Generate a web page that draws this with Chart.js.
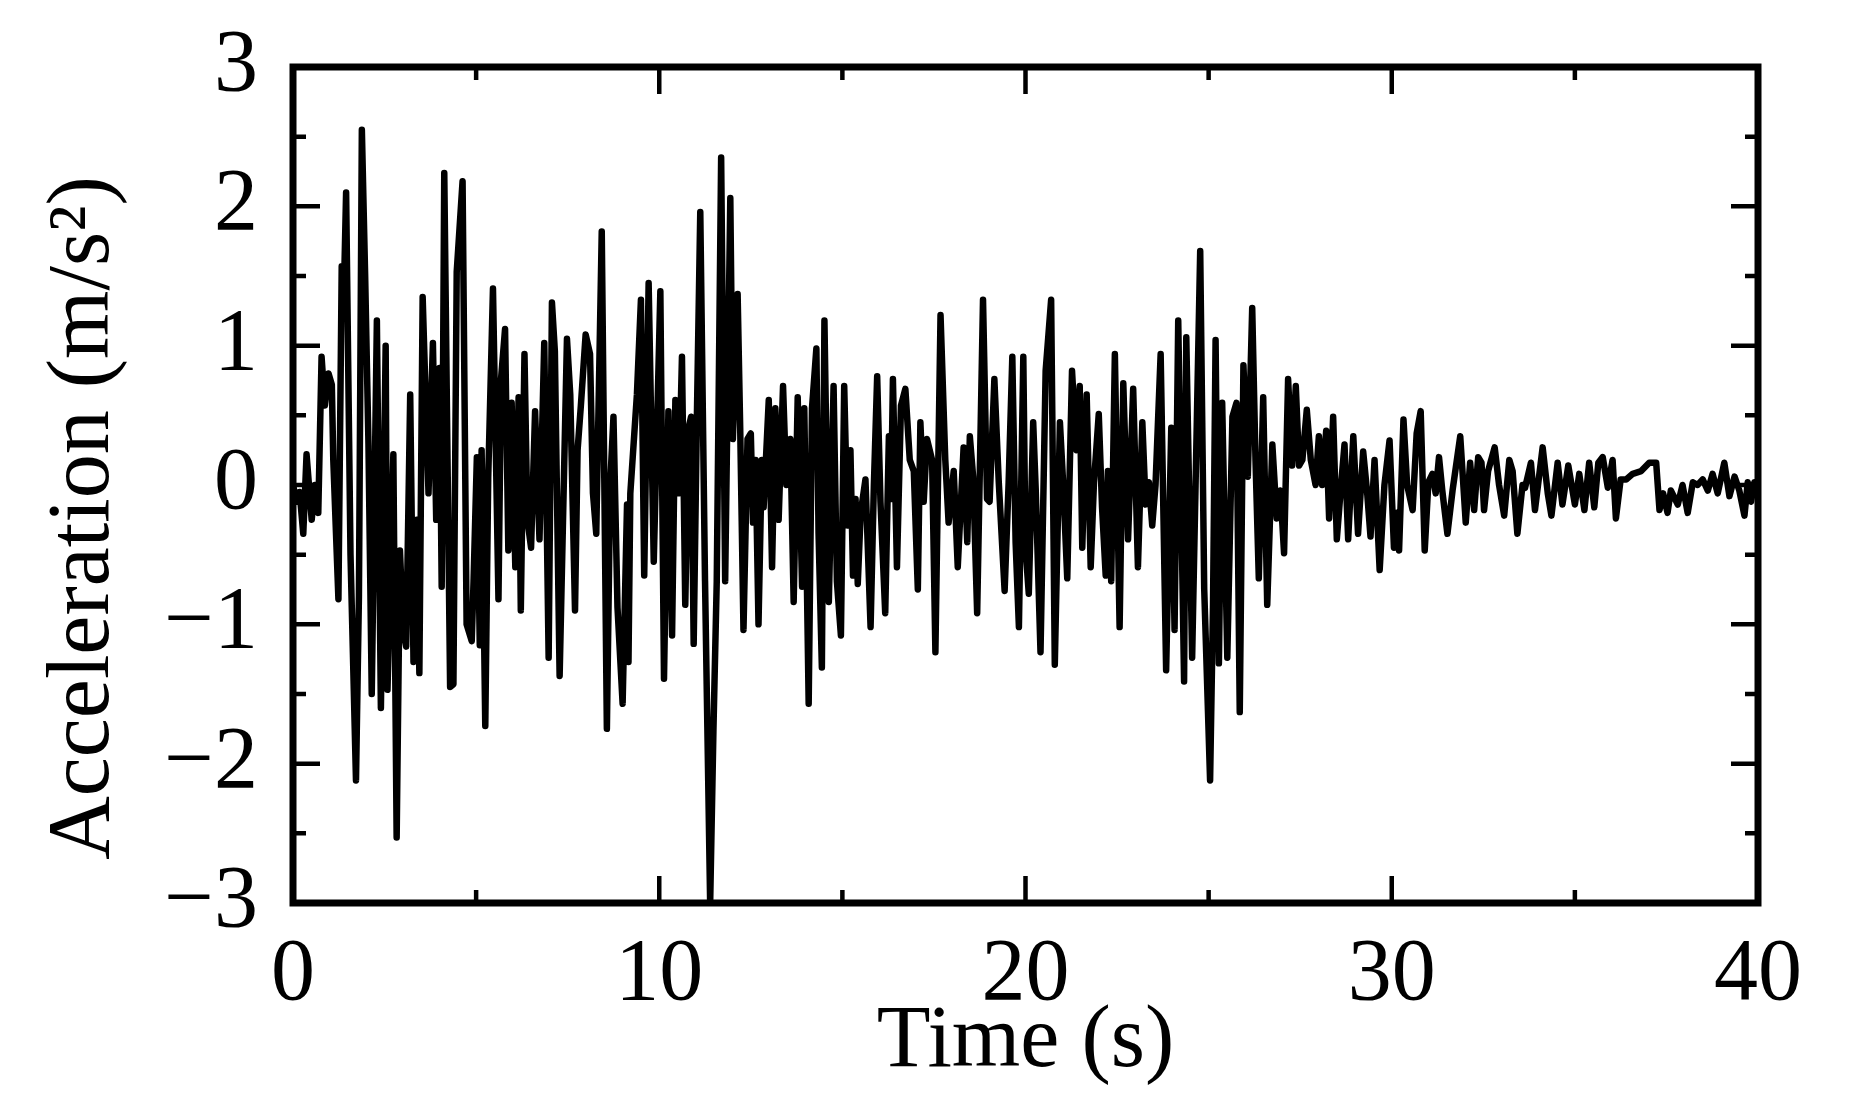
<!DOCTYPE html>
<html>
<head>
<meta charset="utf-8">
<title>Acceleration record</title>
<script src="https://cdn.jsdelivr.net/npm/chart.js@4.4.1/dist/chart.umd.min.js"></script>
<style>
  html, body { margin: 0; padding: 0; background: #fff; }
  #wrap { width: 1850px; height: 1112px; }
</style>
</head>
<body>
<div id="wrap"><canvas id="accel" width="1850" height="1112"></canvas></div>
<script>
"use strict";

const timeS = [
    0.00, 0.10, 0.18, 0.28, 0.37, 0.51, 0.60, 0.69, 0.78, 0.87,
    0.97, 1.06, 1.10, 1.24, 1.33, 1.40, 1.45, 1.57, 1.72, 1.80,
    1.88, 1.97, 2.06, 2.15, 2.29, 2.40, 2.53, 2.58, 2.70, 2.74,
    2.83, 2.92, 3.01, 3.09, 3.20, 3.29, 3.38, 3.45, 3.54, 3.70,
    3.82, 3.91, 4.00, 4.06, 4.13, 4.29, 4.38, 4.47, 4.63, 4.74,
    4.88, 4.93, 5.02, 5.10, 5.15, 5.25, 5.33, 5.46, 5.61, 5.68,
    5.79, 5.88, 5.97, 6.07, 6.16, 6.22, 6.32, 6.40, 6.50, 6.61,
    6.73, 6.86, 6.98, 7.07, 7.15, 7.28, 7.48, 7.57, 7.70, 7.77,
    7.86, 7.99, 8.11, 8.19, 8.28, 8.43, 8.57, 8.66, 8.75, 8.86,
    9.00, 9.12, 9.16, 9.21, 9.39, 9.50, 9.59, 9.71, 9.85, 10.03,
    10.13, 10.25, 10.35, 10.44, 10.53, 10.62, 10.71, 10.80, 10.87, 10.94,
    11.03, 11.12, 11.25, 11.39, 11.48, 11.57, 11.69, 11.80, 11.94, 12.01,
    12.14, 12.21, 12.30, 12.41, 12.50, 12.56, 12.63, 12.71, 12.80, 12.85,
    12.99, 13.08, 13.17, 13.26, 13.38, 13.47, 13.58, 13.67, 13.78, 13.90,
    13.96, 14.08, 14.17, 14.29, 14.35, 14.44, 14.51, 14.63, 14.76, 14.85,
    14.96, 15.05, 15.14, 15.22, 15.29, 15.36, 15.42, 15.50, 15.63, 15.77,
    15.86, 15.95, 16.04, 16.17, 16.27, 16.33, 16.38, 16.49, 16.60, 16.72,
    16.84, 16.95, 17.06, 17.13, 17.22, 17.31, 17.45, 17.54, 17.68, 17.81,
    17.90, 18.04, 18.15, 18.31, 18.41, 18.48, 18.57, 18.68, 18.84, 18.95,
    19.02, 19.15, 19.27, 19.43, 19.54, 19.64, 19.73, 19.82, 19.94, 20.00,
    20.09, 20.21, 20.28, 20.41, 20.55, 20.70, 20.80, 20.94, 21.03, 21.14,
    21.27, 21.39, 21.48, 21.55, 21.67, 21.78, 21.87, 22.00, 22.09, 22.19,
    22.25, 22.34, 22.44, 22.57, 22.67, 22.80, 22.94, 23.07, 23.19, 23.28,
    23.37, 23.46, 23.55, 23.69, 23.84, 23.98, 24.07, 24.17, 24.33, 24.39,
    24.55, 24.77, 24.88, 25.04, 25.12, 25.19, 25.28, 25.37, 25.51, 25.65,
    25.76, 25.85, 25.95, 26.07, 26.19, 26.28, 26.37, 26.49, 26.60, 26.74,
    26.86, 26.96, 27.06, 27.17, 27.28, 27.38, 27.47, 27.56, 27.68, 27.79,
    27.92, 28.01, 28.10, 28.21, 28.29, 28.40, 28.50, 28.61, 28.71, 28.81,
    28.95, 29.08, 29.22, 29.33, 29.42, 29.53, 29.67, 29.80, 29.94, 30.06,
    30.14, 30.20, 30.32, 30.42, 30.57, 30.68, 30.79, 30.90, 31.00, 31.11,
    31.20, 31.29, 31.38, 31.52, 31.66, 31.87, 32.02, 32.14, 32.25, 32.36,
    32.45, 32.52, 32.63, 32.81, 32.93, 33.07, 33.21, 33.30, 33.43, 33.57,
    33.64, 33.80, 33.91, 34.12, 34.26, 34.36, 34.53, 34.66, 34.82, 35.00,
    35.12, 35.26, 35.39, 35.53, 35.64, 35.76, 35.90, 36.03, 36.12, 36.25,
    36.40, 36.58, 36.81, 37.03, 37.22, 37.31, 37.41, 37.53, 37.62, 37.81,
    37.94, 38.08, 38.22, 38.35, 38.49, 38.63, 38.76, 38.90, 39.08, 39.22,
    39.36, 39.49, 39.63, 39.72, 39.81, 39.90, 40.00
];

const accel = [
    0.00, -0.12, -0.05, -0.35, 0.22, -0.25, 0.00, -0.20, 0.92, 0.57,
    0.80, 0.72, 0.18, -0.82, 1.57, 1.50, 2.10, -0.50, -2.12, -0.80,
    2.55, 1.50, 0.30, -1.50, 1.18, -1.60, 1.00, -1.47, -0.20, 0.22,
    -2.53, -0.47, -1.04, -1.16, 0.65, -1.27, -0.25, -1.35, 1.35, -0.06,
    1.02, -0.25, 0.84, -0.73, 2.24, -1.45, -1.43, 1.53, 2.18, -1.00,
    -1.12, -0.69, 0.20, -1.15, 0.25, -1.73, 0.05, 1.41, -0.82, 0.76,
    1.12, -0.47, 0.59, -0.59, 0.63, -0.90, 0.94, -0.25, -0.45, 0.53,
    -0.39, 1.02, -1.24, 1.31, 0.96, -1.37, 1.05, 0.65, -0.90, 0.25,
    0.57, 1.08, 0.94, -0.06, -0.35, 1.82, -1.75, 0.00, 0.49, -0.88,
    -1.57, -0.14, -1.27, -0.06, 0.65, 1.33, -0.65, 1.45, -0.55, 1.39,
    -1.39, 0.53, -1.08, 0.61, -0.06, 0.92, -0.86, 0.41, 0.49, -1.14,
    0.53, 1.96, -0.69, -3.00, -1.75, -0.69, 2.35, -0.69, 2.06, 0.33,
    1.37, 0.41, -1.04, 0.33, 0.37, -0.27, 0.18, -1.00, 0.18, -0.16,
    0.61, -0.59, 0.55, -0.25, 0.71, 0.00, 0.33, -0.84, 0.63, -0.73,
    0.55, -1.57, 0.55, 0.98, -0.35, -1.31, 1.18, -0.84, 0.71, -0.69,
    -1.08, 0.71, -0.29, 0.25, -0.65, -0.10, -0.71, -0.20, 0.04, -1.02,
    0.00, 0.78, -0.12, -0.92, 0.35, -0.10, 0.76, -0.59, 0.57, 0.69,
    0.18, 0.10, -0.75, 0.45, -0.12, 0.33, 0.18, -1.20, 1.22, 0.18,
    -0.27, 0.10, -0.59, 0.27, -0.41, 0.35, 0.06, -0.92, 1.33, -0.10,
    -0.12, 0.76, 0.02, -0.76, 0.02, 0.92, -0.41, -1.02, 0.92, -0.45,
    -0.78, 0.45, -0.04, -1.20, 0.82, 1.33, -1.29, 0.45, 0.00, -0.67,
    0.82, 0.25, 0.71, -0.45, 0.65, -0.59, 0.02, 0.51, -0.16, -0.65,
    0.10, -0.69, 0.94, -1.02, 0.73, -0.39, 0.69, -0.59, 0.45, -0.14,
    0.02, -0.29, 0.00, 0.94, -1.33, 0.41, -1.04, 1.18, -1.41, 1.06,
    -1.24, 1.68, -0.75, -2.12, -0.86, 1.04, -1.28, 0.59, -1.24, 0.49,
    0.59, -1.63, 0.86, 0.06, 1.27, 0.18, -0.67, 0.63, -0.86, 0.29,
    -0.24, -0.04, -0.49, 0.76, 0.14, 0.71, 0.14, 0.18, 0.54, 0.18,
    0.00, 0.35, 0.00, 0.39, -0.24, 0.49, -0.39, -0.02, 0.29, -0.39,
    0.35, -0.35, 0.24, -0.06, -0.37, 0.18, -0.61, 0.00, 0.32, -0.45,
    -0.20, -0.47, 0.47, 0.00, -0.18, 0.37, 0.53, -0.47, 0.02, 0.08,
    -0.06, 0.20, -0.04, -0.35, -0.04, 0.35, -0.27, 0.16, -0.18, 0.20,
    0.16, -0.18, 0.10, 0.27, 0.00, -0.22, 0.18, 0.10, -0.35, 0.00,
    -0.02, 0.16, -0.18, 0.27, -0.06, -0.22, 0.16, -0.14, 0.14, -0.14,
    0.08, -0.18, 0.16, -0.16, 0.16, 0.20, -0.02, 0.18, -0.24, 0.04,
    0.04, 0.08, 0.10, 0.16, 0.16, -0.18, -0.06, -0.20, -0.04, -0.14,
    0.00, -0.20, 0.02, 0.00, 0.04, -0.04, 0.08, -0.06, 0.16, -0.08,
    0.06, -0.04, -0.22, 0.02, -0.12, 0.02, -0.05
];

// axis ticks
const xMajor = [0, 10, 20, 30, 40];
const xMinor = [5, 15, 25, 35];
const yMajor = [-3, -2, -1, 0, 1, 2, 3];
const yMinor = [-2.5, -1.5, -0.5, 0.5, 1.5, 2.5];

const serif = "'Liberation Serif', 'Times New Roman', serif";

// box around the plot with inward ticks on all four sides
const frameTicks = {
    id: 'frameTicks',
    afterDatasetsDraw(chart) {
        const ctx = chart.ctx;
        const a = chart.chartArea;
        const xs = chart.scales.x;
        const ys = chart.scales.y;
        ctx.save();
        ctx.strokeStyle = '#000';
        ctx.lineCap = 'butt';
        ctx.lineWidth = 4.5;
        ctx.beginPath();
        function xTick(v, len) {
            let px = xs.getPixelForValue(v);
            ctx.moveTo(px, a.bottom); ctx.lineTo(px, a.bottom - len);
            ctx.moveTo(px, a.top); ctx.lineTo(px, a.top + len);
        }
        function yTick(v, len) {
            let py = ys.getPixelForValue(v);
            ctx.moveTo(a.left, py); ctx.lineTo(a.left + len, py);
            ctx.moveTo(a.right, py); ctx.lineTo(a.right - len, py);
        }
        xMajor.forEach(v => xTick(v, 27));
        xMinor.forEach(v => xTick(v, 13));
        yMajor.forEach(v => yTick(v, 27));
        yMinor.forEach(v => yTick(v, 13));
        ctx.stroke();
        ctx.lineWidth = 7;
        ctx.strokeRect(a.left, a.top, a.right - a.left, a.bottom - a.top);
        ctx.restore();
    }
};

window.onload = function() {
    let points = timeS.map((t, i) => ({x: t, y: accel[i]}));

    let ctx = document.getElementById('accel').getContext('2d');
    let chart = new Chart(ctx, {
        type: 'line',
        data: {
            datasets: [{
                data: points,
                borderColor: '#000',
                borderWidth: 6.5,
                borderJoinStyle: 'round',
                borderCapStyle: 'round',
                pointRadius: 0,
                tension: 0,
                fill: false
            }]
        },
        options: {
            responsive: false,
            animation: false,
            devicePixelRatio: 1,
            layout: { padding: { left: 0, right: 92, top: 67, bottom: 0 } },
            plugins: { legend: { display: false }, tooltip: { enabled: false } },
            scales: {
                x: {
                    type: 'linear',
                    min: 0,
                    max: 40,
                    afterFit: function(s) { s.height = 209; },
                    grid: { display: false, drawTicks: false },
                    border: { display: false },
                    ticks: {
                        stepSize: 10,
                        padding: 20,
                        color: '#000',
                        maxRotation: 0,
                        font: { family: serif, size: 88 }
                    },
                    title: {
                        display: true,
                        text: 'Time (s)',
                        color: '#000',
                        font: { family: serif, size: 88 },
                        padding: { top: 0, bottom: 16 }
                    }
                },
                y: {
                    min: -3,
                    max: 3,
                    afterFit: function(s) { s.width = 293; },
                    grid: { display: false, drawTicks: false },
                    border: { display: false },
                    ticks: {
                        stepSize: 1,
                        padding: 35,
                        color: '#000',
                        // small line height keeps the top label from pushing the plot down
                        font: { family: serif, size: 88, lineHeight: 0.4 },
                        callback: v => String(v).replace('-', '\u2212')
                    },
                    title: {
                        display: true,
                        text: 'Acceleration (m/s\u00b2)   ',
                        color: '#000',
                        font: { family: serif, size: 88 },
                        padding: { top: 32, bottom: 0 }
                    }
                }
            }
        },
        plugins: [frameTicks]
    });

    window.mychart = chart; // for debug
};
</script>
</body>
</html>
